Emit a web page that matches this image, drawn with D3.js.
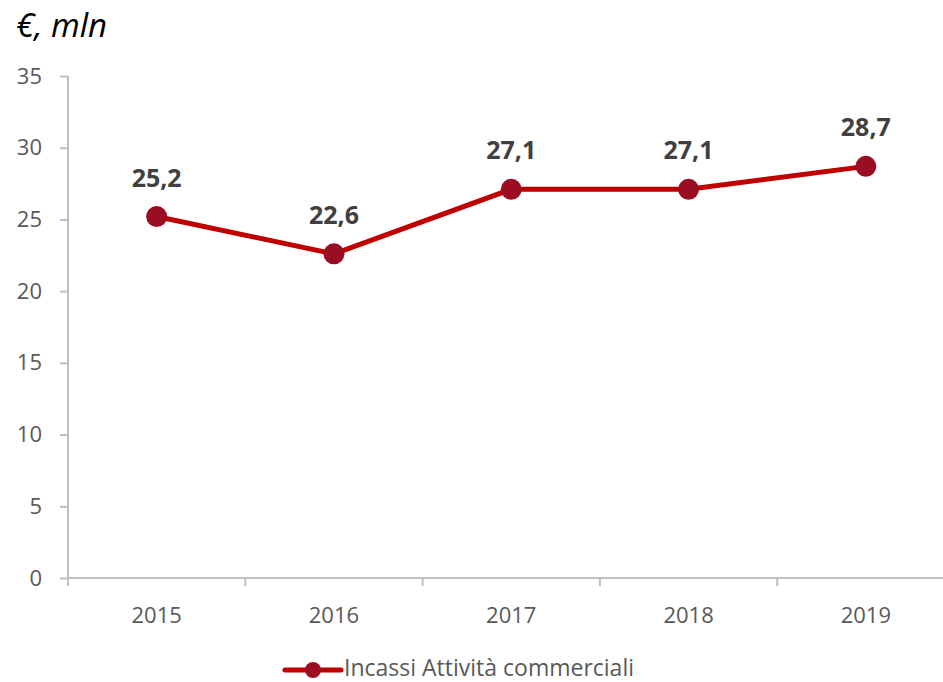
<!DOCTYPE html>
<html>
<head>
<meta charset="utf-8">
<script src="https://cdn.jsdelivr.net/npm/d3@7"></script>
<style>
  html, body { margin: 0; padding: 0; background: #fff; }
  svg { display: block; font-family: "Open Sans", sans-serif; }
</style>
</head>
<body>
<svg id="chart" width="943" height="682"></svg>
<script>
// Annual receipts from commercial activities (€ million)
const years = ["2015", "2016", "2017", "2018", "2019"];
const values = [25.2, 22.6, 27.1, 27.1, 28.7];
const yTicks = [0, 5, 10, 15, 20, 25, 30, 35];
const seriesName = "Incassi Attività commerciali";
const unitLabel = "€, mln";

const svg = d3.select("#chart");
const plotLeft = 68, plotRight = 954.5, plotTop = 76, plotBottom = 578;

const x = d3.scaleBand().domain(years).range([plotLeft, plotRight]);
const y = d3.scaleLinear().domain([0, 35]).range([plotBottom, plotTop]);
const fmt = v => d3.format(".1f")(v).replace(".", ",");
const axisFont = "'Open Sans', sans-serif";

// Unit title
svg.append("text")
  .attr("x", 16).attr("y", 37)
  .attr("font-size", 33).attr("font-style", "italic")
  .attr("fill", "#000")
  .text(unitLabel);

// Y axis
const yAxis = svg.append("g")
  .attr("transform", `translate(${plotLeft},0)`)
  .call(d3.axisLeft(y).tickValues(yTicks).tickSize(8).tickPadding(18));
yAxis.selectAll("text").attr("font-size", 22).attr("fill", "#595959")
  .attr("font-family", axisFont);

// X axis
const xAxis = svg.append("g")
  .attr("transform", `translate(0,${plotBottom})`)
  .call(d3.axisBottom(x).tickSize(0).tickPadding(29));
xAxis.selectAll("text").attr("font-size", 22).attr("fill", "#595959")
  .attr("font-family", axisFont);
// category boundary ticks
xAxis.selectAll(".bound")
  .data(d3.range(years.length + 1))
  .join("line")
  .attr("class", "bound")
  .attr("x1", i => plotLeft + i * x.step()).attr("x2", i => plotLeft + i * x.step())
  .attr("y1", 0).attr("y2", 8);

svg.selectAll(".tick line, .bound")
  .attr("stroke", "#bfbfbf").attr("stroke-width", 2);
yAxis.select(".domain").remove();
xAxis.select(".domain").remove();
svg.append("line").attr("x1", plotLeft).attr("x2", plotLeft)
  .attr("y1", plotTop).attr("y2", plotBottom + 8)
  .attr("stroke", "#bfbfbf").attr("stroke-width", 2);
svg.append("line").attr("x1", plotLeft).attr("x2", plotRight)
  .attr("y1", plotBottom).attr("y2", plotBottom)
  .attr("stroke", "#bfbfbf").attr("stroke-width", 2);

const cx = d => x(d) + x.bandwidth() / 2;

// Series line
svg.append("path")
  .datum(values)
  .attr("fill", "none")
  .attr("stroke", "#c00000")
  .attr("stroke-width", 5)
  .attr("stroke-linejoin", "round")
  .attr("d", d3.line().x((d, i) => cx(years[i])).y(d => y(d)));

// Markers
svg.selectAll(".pt")
  .data(values)
  .join("circle")
  .attr("class", "pt")
  .attr("cx", (d, i) => cx(years[i]))
  .attr("cy", d => y(d))
  .attr("r", 10.5)
  .attr("fill", "#9b0d23");

// Value labels
svg.selectAll(".lbl")
  .data(values)
  .join("text")
  .attr("class", "lbl")
  .attr("x", (d, i) => cx(years[i]))
  .attr("y", d => y(d) - 30)
  .attr("text-anchor", "middle")
  .attr("font-size", 25)
  .attr("font-weight", "bold")
  .attr("fill", "#404040")
  .text(d => fmt(d));

// Legend
const lg = svg.append("g").attr("transform", "translate(285,670)");
lg.append("line").attr("x1", 0).attr("x2", 56).attr("y1", 0).attr("y2", 0)
  .attr("stroke", "#c00000").attr("stroke-width", 5).attr("stroke-linecap", "round");
lg.append("circle").attr("cx", 28).attr("cy", 0).attr("r", 8).attr("fill", "#9b0d23");
lg.append("text").attr("x", 59).attr("y", 5.5)
  .attr("font-size", 23).attr("fill", "#595959")
  .text(seriesName);
</script>
</body>
</html>
